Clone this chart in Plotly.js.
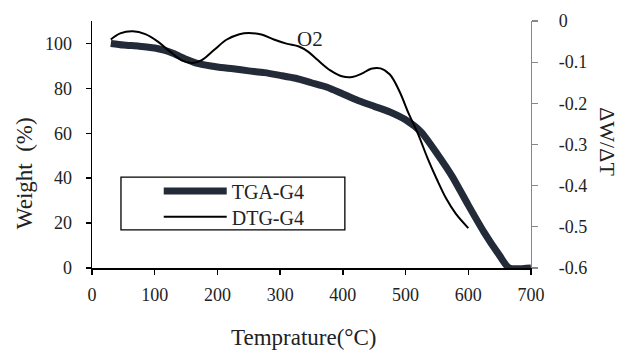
<!DOCTYPE html>
<html>
<head>
<meta charset="utf-8">
<script src="https://cdn.plot.ly/plotly-3.0.1.min.js"></script>
<style>
  html, body { margin: 0; padding: 0; background: #fff; }
  #chart { width: 620px; height: 354px; }
</style>
</head>
<body>
<div id="chart"></div>
<script>
// TGA curve: residual weight (%) vs temperature (°C)
const tgaTemp   = [30, 50, 75, 100, 115, 130, 150, 170, 200, 225, 250, 275, 300, 325, 350, 375, 400, 425, 450, 475, 500, 525, 550, 575, 600, 625, 650, 665, 700];
const tgaWeight = [100, 99.3, 98.8, 98, 97, 95.5, 93, 91, 89.5, 88.7, 87.8, 87, 85.8, 84.5, 82.5, 80.5, 77.5, 74.5, 72, 69.5, 66, 60.5, 51, 40.5, 28, 16, 5.5, 0, 0];

// DTG curve: derivative ΔW/ΔT vs temperature (°C)
const dtgTemp  = [30, 45, 65, 85, 105, 125, 145, 160, 175, 195, 215, 235, 250, 270, 290, 310, 330, 345, 360, 380, 400, 415, 430, 445, 460, 475, 490, 505, 520, 535, 550, 565, 580, 600];
const dtgValue = [-0.045, -0.030, -0.025, -0.032, -0.050, -0.075, -0.097, -0.102, -0.095, -0.070, -0.045, -0.032, -0.029, -0.033, -0.045, -0.055, -0.062, -0.075, -0.095, -0.120, -0.135, -0.136, -0.128, -0.116, -0.115, -0.130, -0.170, -0.225, -0.275, -0.333, -0.385, -0.432, -0.468, -0.503];

// Tick labels
const weightTicks = [0, 20, 40, 60, 80, 100];
const dtgTicks    = [0, -0.1, -0.2, -0.3, -0.4, -0.5, -0.6];
const dtgTickText = ['0', '-0.1', '-0.2', '-0.3', '-0.4', '-0.5', '-0.6'];
const tempTicks   = [0, 100, 200, 300, 400, 500, 600, 700];

const serif = 'Liberation Serif';
const ink = '#222';
const tickFont = { family: serif, size: 18, color: ink };

const tgaLine = { color: '#222b37', width: 7 };
const dtgLine = { color: '#000000', width: 2 };

const traces = [
  {
    x: tgaTemp, y: tgaWeight, name: 'TGA-G4', type: 'scatter', mode: 'lines',
    line: Object.assign({ shape: 'spline', smoothing: 0.6 }, tgaLine),
    yaxis: 'y', legend: 'legend'
  },
  {
    x: dtgTemp, y: dtgValue, name: 'DTG-G4', type: 'scatter', mode: 'lines',
    line: Object.assign({ shape: 'spline', smoothing: 1 }, dtgLine),
    yaxis: 'y2', showlegend: false
  },
  // straight key for the DTG entry (a spline key would be drawn wavy)
  {
    x: [null], y: [null], name: 'DTG-G4', type: 'scatter', mode: 'lines',
    line: Object.assign({ shape: 'linear' }, dtgLine),
    yaxis: 'y2', legend: 'legend2', hoverinfo: 'skip'
  }
];

// one legend box per entry so each row sits exactly where it should
const legendCommon = {
  xanchor: 'left', yanchor: 'middle',
  bgcolor: 'rgba(0,0,0,0)', borderwidth: 0,
  font: { family: serif, size: 20, color: ink },
  itemwidth: 63
};

const layout = {
  width: 620, height: 354,
  margin: { l: 92, r: 89, t: 21, b: 86, pad: 0 },
  paper_bgcolor: '#ffffff', plot_bgcolor: '#ffffff',
  font: { family: serif, size: 18, color: ink },
  showlegend: true,
  legend:  Object.assign({}, legendCommon, { x: 0.152, y: 0.312 }),
  legend2: Object.assign({}, legendCommon, { x: 0.152, y: 0.207 }),
  xaxis: {
    range: [0, 700], tickvals: tempTicks, showgrid: false, zeroline: false,
    showline: true, linecolor: '#000', linewidth: 1.5,
    ticks: 'outside', ticklen: 5, tickcolor: '#000', tickwidth: 1.5,
    ticklabelstandoff: 5, tickfont: tickFont
  },
  yaxis: {
    range: [0, 110], tickvals: weightTicks, showgrid: false, zeroline: false,
    showline: true, linecolor: '#000', linewidth: 1.5,
    ticks: 'outside', ticklen: 5, tickcolor: '#000', tickwidth: 1.5,
    ticklabelstandoff: 10, tickfont: tickFont
  },
  yaxis2: {
    range: [-0.6, 0], overlaying: 'y', side: 'right',
    tickvals: dtgTicks, ticktext: dtgTickText, showgrid: false, zeroline: false,
    showline: true, linecolor: '#888', linewidth: 1.2,
    ticks: 'outside', ticklen: 6, tickcolor: '#888', tickwidth: 1.2,
    ticklabelstandoff: 17, tickfont: tickFont
  },
  shapes: [
    // legend frame
    { type: 'rect', xref: 'paper', yref: 'paper', x0: 0.066, x1: 0.576, y0: 0.154, y1: 0.368,
      line: { color: '#000', width: 1.3 }, fillcolor: 'rgba(0,0,0,0)', layer: 'below' }
  ],
  annotations: [
    { text: 'O2', x: 348, y: 101.8, xref: 'x', yref: 'y', showarrow: false,
      font: { family: serif, size: 21, color: ink } },
    { text: 'Weight  (%)', xref: 'paper', yref: 'paper', x: -0.152, y: 0.385,
      showarrow: false, textangle: -90, xanchor: 'center', yanchor: 'middle',
      font: { family: serif, size: 23, color: ink } },
    { text: 'ΔW/ΔT', xref: 'paper', yref: 'paper', x: 1.175, y: 0.51,
      showarrow: false, textangle: 90, xanchor: 'center', yanchor: 'middle',
      font: { family: serif, size: 22, color: ink } },
    { text: 'Temprature(°C)', xref: 'paper', yref: 'paper', x: 0.483, y: -0.283,
      showarrow: false, xanchor: 'center', yanchor: 'middle',
      font: { family: serif, size: 23, color: ink } }
  ]
};

Plotly.newPlot('chart', traces, layout, { displayModeBar: false, staticPlot: true });
</script>
</body>
</html>
